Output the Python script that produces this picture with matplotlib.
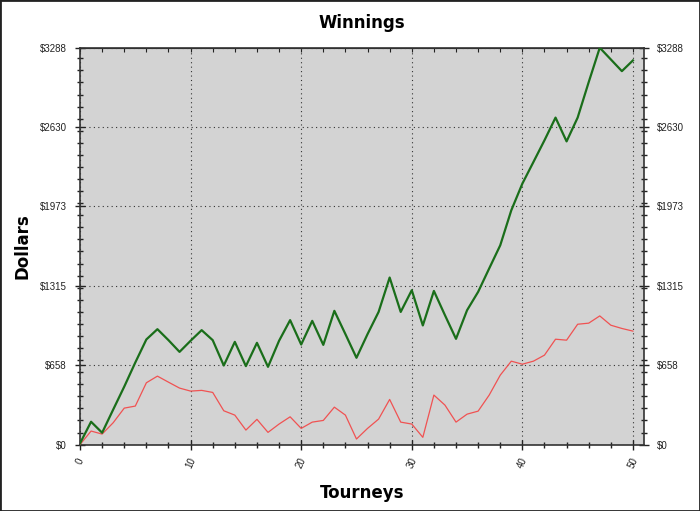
import matplotlib
matplotlib.use("Agg")
import matplotlib.pyplot as plt
from matplotlib.ticker import MultipleLocator, FixedLocator
from matplotlib.patches import Rectangle

tourneys = list(range(51))
total_winnings = [10, 189, 98, 290, 480, 680, 871, 956, 865, 768,
                  860, 948, 865, 655, 851, 650, 843, 644, 860, 1031,
                  829, 1025, 826, 1108, 915, 719, 915, 1099, 1384, 1099,
                  1279, 987, 1273, 1072, 876, 1113, 1265, 1459, 1651, 1941,
                  2162, 2341, 2521, 2709, 2512, 2709, 3003, 3288, 3191, 3094,
                  3183]
avg_winnings = [0, 112, 87, 181, 302, 319, 512, 567, 517, 468,
                443, 449, 432, 280, 244, 120, 209, 101, 170, 230,
                134, 186, 200, 310, 244, 46, 134, 211, 374, 186,
                170, 60, 410, 327, 186, 252, 277, 410, 575, 691,
                666, 691, 741, 873, 865, 997, 1006, 1066, 989, 962,
                940]
y_ticks = [0, 657.6, 1315.2, 1972.8, 2630.4, 3288]
y_tick_labels = ["$0", "$658", "$1315", "$1973", "$2630", "$3288"]
x_ticks = [0, 10, 20, 30, 40, 50]

fig = plt.figure(figsize=(7, 5.11), dpi=100)
fig.patch.set_facecolor("white")
ax = fig.add_axes([0.1143, 0.130, 0.8057, 0.7766])
ax.set_facecolor("#d3d3d3")

ax.plot(tourneys, avg_winnings, color="#f05252", lw=0.9, zorder=3)
ax.plot(tourneys, total_winnings, color="#1a6e1a", lw=1.6, zorder=4)

ax.set_xlim(0, 51)
ax.set_ylim(0, 3288)
ax.xaxis.set_major_locator(FixedLocator(x_ticks))
ax.xaxis.set_minor_locator(MultipleLocator(2))
ax.yaxis.set_major_locator(FixedLocator(y_ticks))
ax.yaxis.set_minor_locator(MultipleLocator(100))
ax.set_yticklabels(y_tick_labels)
ax.set_xticklabels([str(v) for v in x_ticks], rotation=65)

ax.grid(True, which="major", linestyle=(0, (1, 3)), color="#333333", lw=0.8)
for ln in ax.get_xgridlines() + ax.get_ygridlines():
    ln.set_zorder(2)

ax.tick_params(which="both", direction="inout", color="#222222",
               left=True, right=True, labelleft=True, labelright=True,
               labelsize=7, labelcolor="#222222")
ax.tick_params(which="major", length=7, width=1)
ax.tick_params(which="minor", length=4, width=1)
ax.tick_params(axis="y", which="major", pad=6)
ax.tick_params(axis="x", which="major", pad=5)
ax.tick_params(axis="x", which="both", top=False)
for lab in ax.get_xticklabels() + ax.get_yticklabels():
    lab.set_fontfamily("Liberation Sans")

sec = ax.secondary_xaxis("top")
sec.xaxis.set_major_locator(MultipleLocator(2))
sec.tick_params(direction="in", length=3, labeltop=False, color="#222222")

for sp in ax.spines.values():
    sp.set_color("#333333")
    sp.set_linewidth(1.2)
sec.spines["top"].set_color("#222222")

ax.set_title("Winnings", fontsize=12, fontweight="bold", pad=14)
ax.set_xlabel("Tourneys", fontsize=12, fontweight="bold", labelpad=10)
ax.set_ylabel("Dollars", fontsize=12, fontweight="bold", labelpad=6)

fig.patches.append(Rectangle((0, 0), 1, 1, transform=fig.transFigure,
                             fill=False, edgecolor="#222222", lw=2))

fig.savefig("out.png", dpi=100)
